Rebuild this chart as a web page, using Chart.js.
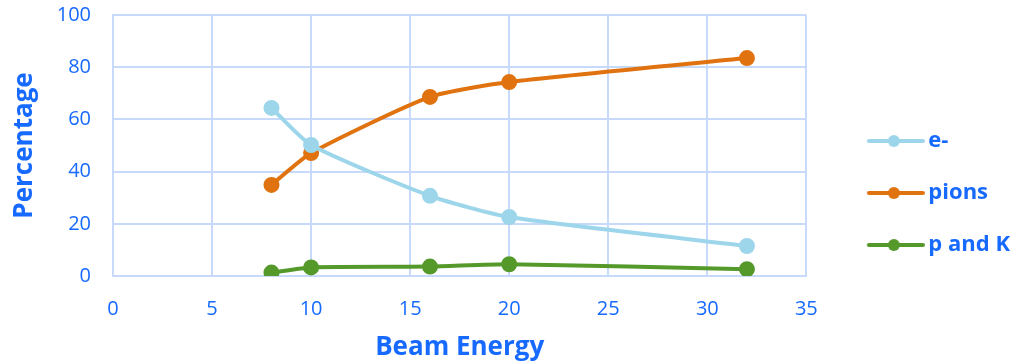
<!DOCTYPE html>
<html>
<head>
<meta charset="utf-8">
<script src="https://cdn.jsdelivr.net/npm/chart.js@4"></script>
<style>
  html, body { margin: 0; padding: 0; background: #fff; }
  #wrap { width: 1029px; height: 364px; }
</style>
</head>
<body>
<div id="wrap"><canvas id="chart"></canvas></div>
<script>
// data
const beamEnergy = [8, 10, 16, 20, 32];
const electrons = [64.4, 50.2, 30.7, 22.6, 11.5];
const pions = [34.9, 47.1, 68.6, 74.3, 83.5];
const protonsKaons = [1.3, 3.3, 3.6, 4.5, 2.6];

const blue = '#176aff';
const gridColor = '#c8dafc';
const fontFamily = '"Open Sans", Lato, sans-serif';

// legend marker: short line with a dot, drawn in the right part of a wider canvas
// so the legend keeps a gap between the plot and the markers
function legendMarker(color) {
    const c = document.createElement('canvas');
    c.width = 96;
    c.height = 14;
    const g = c.getContext('2d');
    g.strokeStyle = color;
    g.lineWidth = 4;
    g.lineCap = 'round';
    g.beginPath();
    g.moveTo(40, 7);
    g.lineTo(94, 7);
    g.stroke();
    g.fillStyle = color;
    g.beginPath();
    g.arc(65, 7, 6, 0, Math.PI * 2);
    g.fill();
    return c;
}

function series(label, values, color) {
    return {
        label: label,
        data: beamEnergy.map((x, i) => ({ x: x, y: values[i] })),
        borderColor: color,
        backgroundColor: color,
        borderWidth: 4,
        pointRadius: 6,
        pointHoverRadius: 6,
        pointStyle: 'circle',
        tension: 0.2,
        legendMarker: legendMarker(color)
    };
}

const ctx = document.getElementById('chart').getContext('2d');
new Chart(ctx, {
    type: 'line',
    data: {
        datasets: [
            series('e-', electrons, '#9dd6ea'),
            series('pions', pions, '#e0730f'),
            series('p and K', protonsKaons, '#55992b')
        ]
    },
    options: {
        responsive: true,
        maintainAspectRatio: false,
        animation: false,
        layout: { padding: { top: 0, right: 9, left: 0, bottom: 0 } },
        plugins: {
            tooltip: { enabled: false },
            legend: {
                position: 'right',
                title: { display: true, text: ' ', font: { size: 10 }, padding: 5 },
                labels: {
                    usePointStyle: true,
                    pointStyleWidth: 81,
                    padding: 30,
                    color: blue,
                    font: { family: fontFamily, size: 22, weight: 'bold' },
                    generateLabels: (chart) => chart.data.datasets.map((ds, i) => ({
                        text: ds.label,
                        pointStyle: ds.legendMarker,
                        fillStyle: ds.borderColor,
                        strokeStyle: ds.borderColor,
                        lineWidth: 0,
                        fontColor: blue,
                        datasetIndex: i
                    }))
                }
            }
        },
        scales: {
            x: {
                type: 'linear',
                min: 0,
                max: 35,
                afterFit: (scale) => {
                    scale.height = 88;
                    scale.paddingLeft = 0;
                    scale.paddingRight = 0;
                },
                ticks: {
                    stepSize: 5,
                    padding: 21,
                    color: blue,
                    font: { family: fontFamily, size: 20 }
                },
                grid: { color: gridColor, lineWidth: 2, drawTicks: false },
                border: { color: gridColor, width: 2 },
                title: {
                    display: true,
                    text: 'Beam Energy',
                    color: blue,
                    font: { family: fontFamily, size: 26, weight: 'bold' },
                    padding: { top: 0, bottom: 1 }
                }
            },
            y: {
                min: 0,
                max: 100,
                afterFit: (scale) => {
                    scale.width = 113;
                    scale.paddingTop = 15;
                    scale.paddingBottom = 0;
                },
                ticks: {
                    stepSize: 20,
                    padding: 22,
                    color: blue,
                    font: { family: fontFamily, size: 20 }
                },
                grid: { color: gridColor, lineWidth: 2, drawTicks: false },
                border: { color: gridColor, width: 2 },
                title: {
                    display: true,
                    text: 'Percentage',
                    color: blue,
                    font: { family: fontFamily, size: 26, weight: 'bold' },
                    padding: { top: 9, bottom: 0 }
                }
            }
        }
    }
});
</script>
</body>
</html>
